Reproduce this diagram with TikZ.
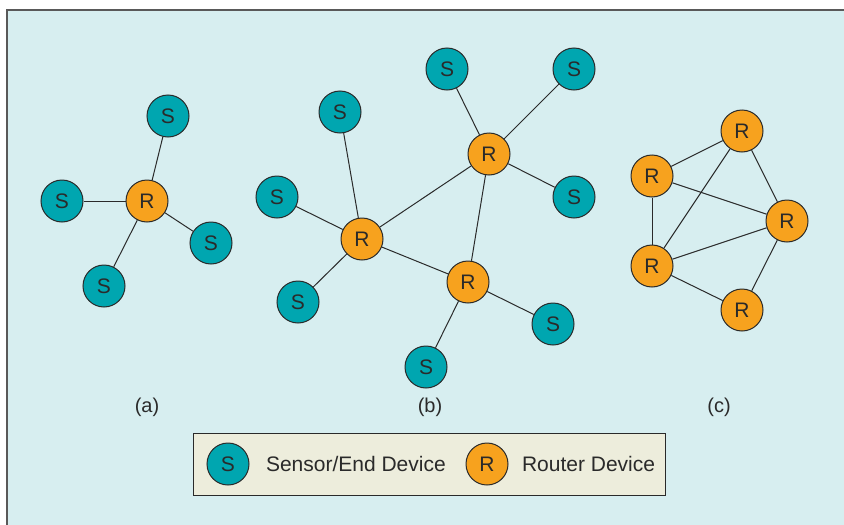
\documentclass[tikz,border=0pt]{standalone}
\usepackage{fontspec}
\setmainfont{Liberation Sans}
\usepackage{tikz}
\usetikzlibrary{positioning}
\definecolor{panelcyan}{HTML}{D7EEF0}
\definecolor{sensorteal}{HTML}{00A6B0}
\definecolor{routerorange}{HTML}{F7A21E}
\definecolor{legendbeige}{HTML}{EDEDDC}
\definecolor{inkgray}{HTML}{2A2A2A}
\tikzset{
  every node/.style={
    font=\fontsize{21}{24}\selectfont,
    text=inkgray
  },
  sensor/.style={
    shape=circle,
    minimum size=42pt,
    inner sep=0pt,
    draw=inkgray,
    line width=1pt,
    fill=sensorteal
  },
  router/.style={
    shape=circle,
    minimum size=42pt,
    inner sep=0pt,
    draw=inkgray,
    line width=1pt,
    fill=routerorange
  },
  link/.style={
    draw=inkgray,
    line width=1pt
  },
  caption/.style={
    font=\fontsize{20}{23}\selectfont
  }
}

\begin{document}
\begin{tikzpicture}[x=1pt,y=-1pt]

\useasboundingbox (0,0) rectangle (844,525);
\fill [panelcyan] (7,10) rectangle (844,525);
\draw [gray!70!black,line width=2pt] (7,525) -- (7,10) -- (844,10);

\node [router] (a-r) at (147,201) {R};
\node [sensor] (a-s1) at (168,116) {S};
\node [sensor] (a-s2) at (62,201) {S};
\node [sensor] (a-s3) at (211,243) {S};
\node [sensor] (a-s4) at (104,286) {S};
\foreach \s in {a-s1,a-s2,a-s3,a-s4}
  \draw [link] (a-r) -- (\s);

\node [router] (b-r1) at (489,154) {R};
\node [router] (b-r2) at (362,239) {R};
\node [router] (b-r3) at (468,282) {R};
\node [sensor] (b-s1) at (340,112) {S};
\node [sensor] (b-s2) at (447,69) {S};
\node [sensor] (b-s3) at (574,69) {S};
\node [sensor] (b-s4) at (574,197) {S};
\node [sensor] (b-s5) at (277,197) {S};
\node [sensor] (b-s6) at (298,302) {S};
\node [sensor] (b-s7) at (553,324) {S};
\node [sensor] (b-s8) at (426,367) {S};
\foreach \s in {b-s2,b-s3,b-s4,b-r2,b-r3}
  \draw [link] (b-r1) -- (\s);
\foreach \s in {b-s1,b-s5,b-s6,b-r3}
  \draw [link] (b-r2) -- (\s);
\foreach \s in {b-s7,b-s8}
  \draw [link] (b-r3) -- (\s);

\node [router] (c-top) at (742,131) {R};
\node [router] (c-upper) at (652,176) {R};
\node [router] (c-right) at (787,221) {R};
\node [router] (c-lower) at (652,266) {R};
\node [router] (c-bottom) at (742,310) {R};
\draw [link] (c-top) -- (c-upper);
\draw [link] (c-top) -- (c-right);
\draw [link] (c-top) -- (c-lower);
\draw [link] (c-upper) -- (c-right);
\draw [link] (c-upper) -- (c-lower);
\draw [link] (c-lower) -- (c-right);
\draw [link] (c-lower) -- (c-bottom);
\draw [link] (c-bottom) -- (c-right);

\node [caption] (cap-a) at (147,407) {(a)};
\node [caption] (cap-b) at (430,407) {(b)};
\node [caption] (cap-c) at (719,407) {(c)};

\node [draw=inkgray,line width=1.2pt,fill=legendbeige,minimum width=472pt,minimum height=62pt] (legend) at (429.5,464.5) {};
\node [sensor] (key-s) at (228,464) {S};
\node [right=13pt of key-s,anchor=west] (key-s-text) {Sensor/End Device};
\node [router] (key-r) at (487,464) {R};
\node [right=10pt of key-r,anchor=west] (key-r-text) {Router Device};

\end{tikzpicture}
\end{document}
